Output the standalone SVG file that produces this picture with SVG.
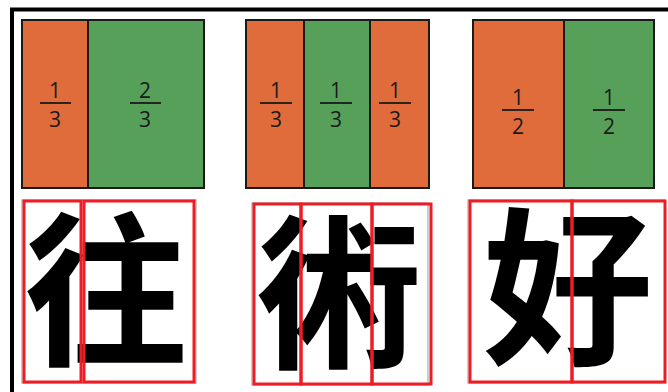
<svg xmlns="http://www.w3.org/2000/svg" width="668" height="392" viewBox="0 0 668 392">
<style>
.o{fill:#E06C3B;stroke:#1a1a1a;stroke-width:2}
.g{fill:#57A05A;stroke:#1a1a1a;stroke-width:2}
.f{font-family:"Open Sans","Noto Sans",sans-serif;font-size:21px;fill:#1a1a1a;text-anchor:middle}
.bar{stroke:#1a1a1a;stroke-width:1.8}
.rb{fill:none;stroke:#EE1C25;stroke-width:3}
.gb{fill:none;stroke:#999;stroke-width:1}
.cj{font-family:"Noto Sans CJK SC","Noto Sans CJK JP",sans-serif;font-weight:700;fill:#000;text-anchor:middle}
</style>
<rect width="668" height="392" fill="#fff"/>
<path d="M12 392 V9.5 H668" fill="none" stroke="#000" stroke-width="4"/>

<g id="panel1">
<rect class="o" x="22" y="20" width="66" height="168"/>
<rect class="g" x="88" y="20" width="116" height="168"/>
<text class="f" x="55" y="98">1</text><line class="bar" x1="40" y1="103" x2="71" y2="103"/><text class="f" x="55" y="127">3</text>
<text class="f" x="145" y="98">2</text><line class="bar" x1="130" y1="103" x2="161" y2="103"/><text class="f" x="145" y="127">3</text>
</g>

<g id="panel2">
<rect class="o" x="246" y="20" width="58" height="168"/>
<rect class="g" x="304" y="20" width="66" height="168"/>
<rect class="o" x="370" y="20" width="59" height="168"/>
<text class="f" x="276" y="98">1</text><line class="bar" x1="260" y1="103" x2="292" y2="103"/><text class="f" x="276" y="127">3</text>
<text class="f" x="336" y="98">1</text><line class="bar" x1="320" y1="103" x2="352" y2="103"/><text class="f" x="336" y="127">3</text>
<text class="f" x="395" y="98">1</text><line class="bar" x1="379" y1="103" x2="411" y2="103"/><text class="f" x="395" y="127">3</text>
</g>

<g id="panel3">
<rect class="o" x="473" y="20" width="91" height="168"/>
<rect class="g" x="564" y="20" width="90" height="168"/>
<text class="f" x="518" y="105">1</text><line class="bar" x1="502" y1="110" x2="534" y2="110"/><text class="f" x="518" y="134">2</text>
<text class="f" x="609" y="105">1</text><line class="bar" x1="593" y1="110" x2="625" y2="110"/><text class="f" x="609" y="134">2</text>
</g>

<g id="char1">
<rect class="gb" x="22" y="200" width="174" height="183"/>
<text class="cj" x="106" y="352" font-size="165">往</text>
<rect class="rb" x="24" y="201" width="57" height="181"/>
<rect class="rb" x="84" y="201" width="110" height="181"/>
</g>

<g id="char2">
<rect class="gb" x="252" y="203" width="176" height="182"/>
<text class="cj" x="339" y="355" font-size="165">術</text>
<rect class="rb" x="254" y="204" width="47" height="180"/>
<rect class="rb" x="301" y="204" width="71" height="180"/>
<rect class="rb" x="372" y="204" width="59" height="180"/>
</g>

<g id="char3">
<rect class="gb" x="468" y="200" width="197" height="183"/>
<text class="cj" x="568" y="352" font-size="170">好</text>
<rect class="rb" x="470" y="201" width="102" height="181"/>
<rect class="rb" x="572" y="201" width="93" height="181"/>
</g>
</svg>
